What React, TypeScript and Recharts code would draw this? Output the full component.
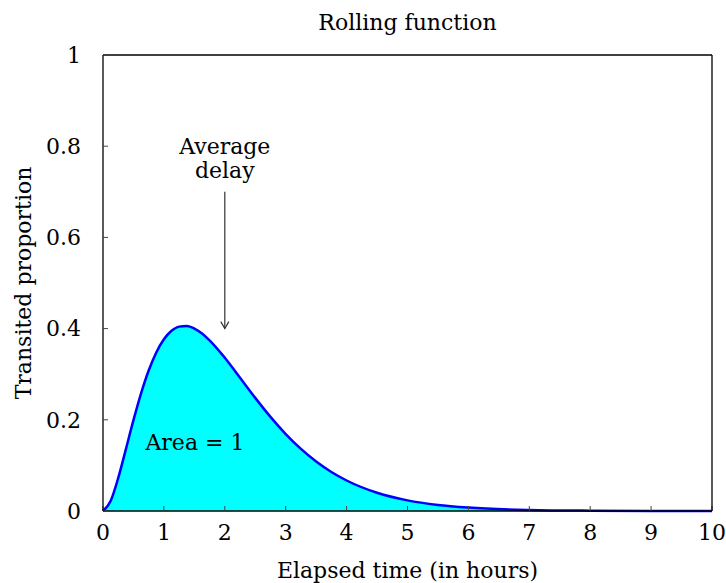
import React from "react"
import {
  ComposedChart,
  Area,
  XAxis,
  YAxis,
  ReferenceLine,
  ReferenceDot,
  Label,
} from "recharts"

// elapsed time (hours) and transited proportion
const hours = [
  0, 0.125, 0.25, 0.375, 0.5, 0.625, 0.75, 0.875, 1, 1.125, 1.25, 1.375, 1.5,
  1.625, 1.75, 2, 2.25, 2.5, 2.75, 3, 3.25, 3.5, 3.75, 4, 4.5, 5, 5.5, 6, 7, 8,
  9, 10,
]
const proportion = [
  0, 0.0219, 0.0725, 0.1352, 0.1993, 0.2581, 0.3082, 0.3477, 0.3765, 0.3951,
  0.4043, 0.4057, 0.4002, 0.3894, 0.3744, 0.3361, 0.2923, 0.2481, 0.2063,
  0.1687, 0.1361, 0.1085, 0.0855, 0.0669, 0.04, 0.0233, 0.0133, 0.0075, 0.0023,
  0.0007, 0.0002, 0.0001,
]
const xTicks = [0, 1, 2, 3, 4, 5, 6, 7, 8, 9, 10]
const yTicks = [0, 0.2, 0.4, 0.6, 0.8, 1]

const averageDelay = 2
const arrowFrom = 0.7
const arrowTo = 0.4

const data = hours.map((x, i) => ({ x, y: proportion[i] }))

const FONT = "DejaVu Serif"
const FS = 22
const tickStyle = { fontFamily: FONT, fontSize: FS, fill: "#000" }

const Arrow = (props: any) => {
  const { x1, y1, x2, y2 } = props
  return (
    <g>
      <line x1={x1} y1={y1} x2={x2} y2={y2} stroke="#333" strokeWidth={1.2} />
      <polyline
        points={`${x2 - 4},${y2 - 7} ${x2},${y2} ${x2 + 4},${y2 - 7}`}
        fill="none"
        stroke="#333"
        strokeWidth={1.2}
      />
    </g>
  )
}

const fmtY = (v: number) => (v === 0 || v === 1 ? String(v) : v.toFixed(1))

export default function App() {
  return (
    <div style={{ position: "absolute", left: 0, top: 0 }}>
      <ComposedChart
        width={726}
        height={583}
        data={data}
        margin={{ top: 50, right: 9, bottom: 0, left: 0 }}
        style={{ background: "white" }}
      >
        <XAxis
          dataKey="x"
          type="number"
          domain={[0, 10]}
          ticks={xTicks}
          height={72}
          tick={tickStyle}
          tickSize={-5}
          tickMargin={18}
          axisLine={{ stroke: "#000", strokeWidth: 1.3 }}
          tickLine={{ stroke: "#444" }}
        >
          <Label
            value="Elapsed time (in hours)"
            position="insideBottom"
            offset={5}
            style={{ fontFamily: FONT, fontSize: FS, fill: "#000" }}
          />
        </XAxis>
        <XAxis
          xAxisId="top"
          orientation="top"
          type="number"
          domain={[0, 10]}
          ticks={xTicks}
          height={5}
          tick={false}
          tickSize={-5}
          axisLine={{ stroke: "#000", strokeWidth: 1.3 }}
          tickLine={{ stroke: "#444" }}
        >
          <Label
            value="Rolling function"
            position="top"
            offset={20}
            style={{ fontFamily: FONT, fontSize: FS, fill: "#000" }}
          />
        </XAxis>
        <YAxis
          type="number"
          domain={[0, 1]}
          ticks={yTicks}
          width={103}
          tick={tickStyle}
          tickFormatter={fmtY}
          tickSize={-5}
          tickMargin={27}
          axisLine={{ stroke: "#000", strokeWidth: 1.3 }}
          tickLine={{ stroke: "#444" }}
        >
          <Label
            content={(p: any) => {
              const vb = p.viewBox || { x: 0, y: 50, height: 461 }
              const cx = vb.x + 31
              const cy = vb.y + vb.height / 2
              return (
                <text
                  x={cx}
                  y={cy}
                  transform={`rotate(-90, ${cx}, ${cy})`}
                  textAnchor="middle"
                  style={{ fontFamily: FONT, fontSize: FS, fill: "#000" }}
                >
                  Transited proportion
                </text>
              )
            }}
          />
        </YAxis>
        <YAxis
          yAxisId="right"
          orientation="right"
          type="number"
          domain={[0, 1]}
          ticks={yTicks}
          width={5}
          tick={false}
          tickSize={-5}
          axisLine={{ stroke: "#000", strokeWidth: 1.3 }}
          tickLine={{ stroke: "#444" }}
        />
        <Area
          type="monotone"
          dataKey="y"
          stroke="#0000ff"
          strokeWidth={2.5}
          fill="#00ffff"
          fillOpacity={1}
          isAnimationActive={false}
          dot={false}
          activeDot={false}
        />
        <ReferenceLine
          segment={[
            { x: averageDelay, y: arrowFrom },
            { x: averageDelay, y: arrowTo },
          ]}
          shape={Arrow}
        />
        <ReferenceDot
          x={averageDelay}
          y={0.8}
          r={0}
          fill="none"
          stroke="none"
          label={{ value: "Average", position: "center", ...tickStyle }}
        />
        <ReferenceDot
          x={averageDelay}
          y={0.748}
          r={0}
          fill="none"
          stroke="none"
          label={{ value: "delay", position: "center", ...tickStyle }}
        />
        <ReferenceDot
          x={1.51}
          y={0.151}
          r={0}
          fill="none"
          stroke="none"
          label={{ value: "Area = 1", position: "center", ...tickStyle }}
        />
      </ComposedChart>
    </div>
  )
}
